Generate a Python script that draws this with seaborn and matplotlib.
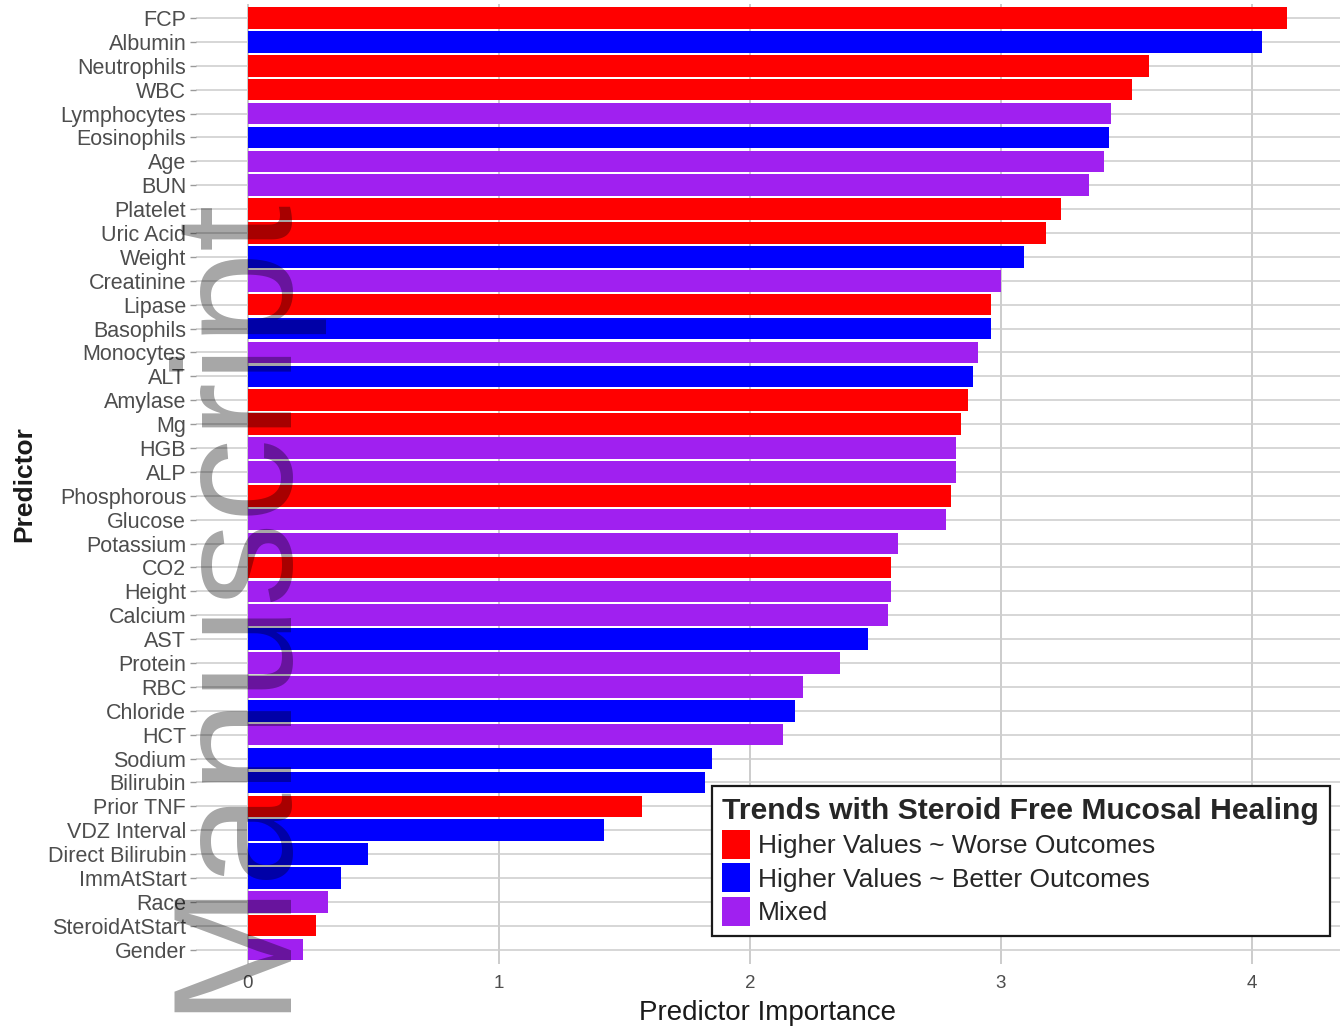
import matplotlib
matplotlib.use("Agg")
import matplotlib.pyplot as plt
import seaborn as sns
import pandas as pd
from matplotlib.patches import Patch

# Predictor importance, ordered from most to least important
predictors = [
    "FCP", "Albumin", "Neutrophils", "WBC", "Lymphocytes", "Eosinophils", "Age",
    "BUN", "Platelet", "Uric Acid", "Weight", "Creatinine", "Lipase", "Basophils",
    "Monocytes", "ALT", "Amylase", "Mg", "HGB", "ALP", "Phosphorous", "Glucose",
    "Potassium", "CO2", "Height", "Calcium", "AST", "Protein", "RBC", "Chloride",
    "HCT", "Sodium", "Bilirubin", "Prior TNF", "VDZ Interval", "Direct Bilirubin",
    "ImmAtStart", "Race", "SteroidAtStart", "Gender",
]
importance = [
    4.14, 4.04, 3.59, 3.52, 3.44, 3.43, 3.41,
    3.35, 3.24, 3.18, 3.09, 3.00, 2.96, 2.96,
    2.91, 2.89, 2.87, 2.84, 2.82, 2.82, 2.80, 2.78,
    2.59, 2.56, 2.56, 2.55, 2.47, 2.36, 2.21, 2.18,
    2.13, 1.85, 1.82, 1.57, 1.42, 0.48,
    0.37, 0.32, 0.27, 0.22,
]
W, B, M = ("Higher Values ~ Worse Outcomes",
           "Higher Values ~ Better Outcomes",
           "Mixed")
trend = [
    W, B, W, W, M, B, M,
    M, W, W, B, M, W, B,
    M, B, W, W, M, M, W, M,
    M, W, M, M, B, M, M, B,
    M, B, B, W, B, B,
    B, M, W, M,
]
trend_order = [W, B, M]
trend_colors = ["#FF0000", "#0000FF", "#A020F0"]

df = pd.DataFrame({"Predictor": predictors,
                   "Importance": importance,
                   "Trend": trend})

sns.set_theme(style="whitegrid")
plt.rcParams["font.family"] = ["Liberation Sans", "DejaVu Sans"]

fig = plt.figure(figsize=(13.43, 10.29), dpi=100)
ax = fig.add_axes([0.1459, 0.0632, 0.8518, 0.9332])

sns.barplot(data=df, x="Importance", y="Predictor", hue="Trend",
            hue_order=trend_order, palette=trend_colors, order=predictors,
            dodge=False, width=0.9, saturation=1, linewidth=0,
            legend=False, ax=ax)

ax.set_xlim(-0.207, 4.35)
ax.set_ylim(len(predictors) - 1 + 0.6, -0.6)
ax.set_xticks([0, 1, 2, 3, 4])

ax.set_facecolor("white")
ax.grid(axis="y", color="#cfcfcf", linewidth=1.2)
ax.grid(axis="x", color="#c4c4c4", linewidth=1.2)
ax.set_axisbelow(True)
for s in ax.spines.values():
    s.set_visible(False)

ax.tick_params(axis="y", length=4, width=1, color="#9a9a9a",
               labelsize=15.5, labelcolor="#4d4d4d", pad=3, left=True)
ax.tick_params(axis="x", length=0, labelsize=13.5, labelcolor="#4d4d4d", pad=8)

ax.set_xlabel("Predictor Importance", fontsize=20, color="#1a1a1a", labelpad=6)
ax.set_ylabel("Predictor", fontsize=19, fontweight="bold", color="#1a1a1a",
              labelpad=8)

handles = [Patch(facecolor=c, edgecolor="none", label=t)
           for t, c in zip(trend_order, trend_colors)]
leg = ax.legend(handles=handles, title="Trends with Steroid Free Mucosal Healing",
                loc="lower right", bbox_to_anchor=(0.991, 0.029),
                fontsize=19, title_fontproperties={"size": 21.7, "weight": "bold"},
                frameon=True, fancybox=False, framealpha=1, edgecolor="#1a1a1a",
                handlelength=1.05, handleheight=1.3, handletextpad=0.3,
                labelspacing=0.18, borderpad=0.4, alignment="left",
                borderaxespad=0)
leg.get_frame().set_linewidth(1.6)
leg.get_frame().set_facecolor("white")

# "Manuscript" watermark running up the left edge
fig.text(278 / 1343, 1 - 1012 / 1029, "Manuscript", rotation=90,
         rotation_mode="anchor", ha="left", va="baseline",
         fontsize=121, color="black", alpha=0.35, zorder=10)

fig.savefig("out.png", dpi=100)
